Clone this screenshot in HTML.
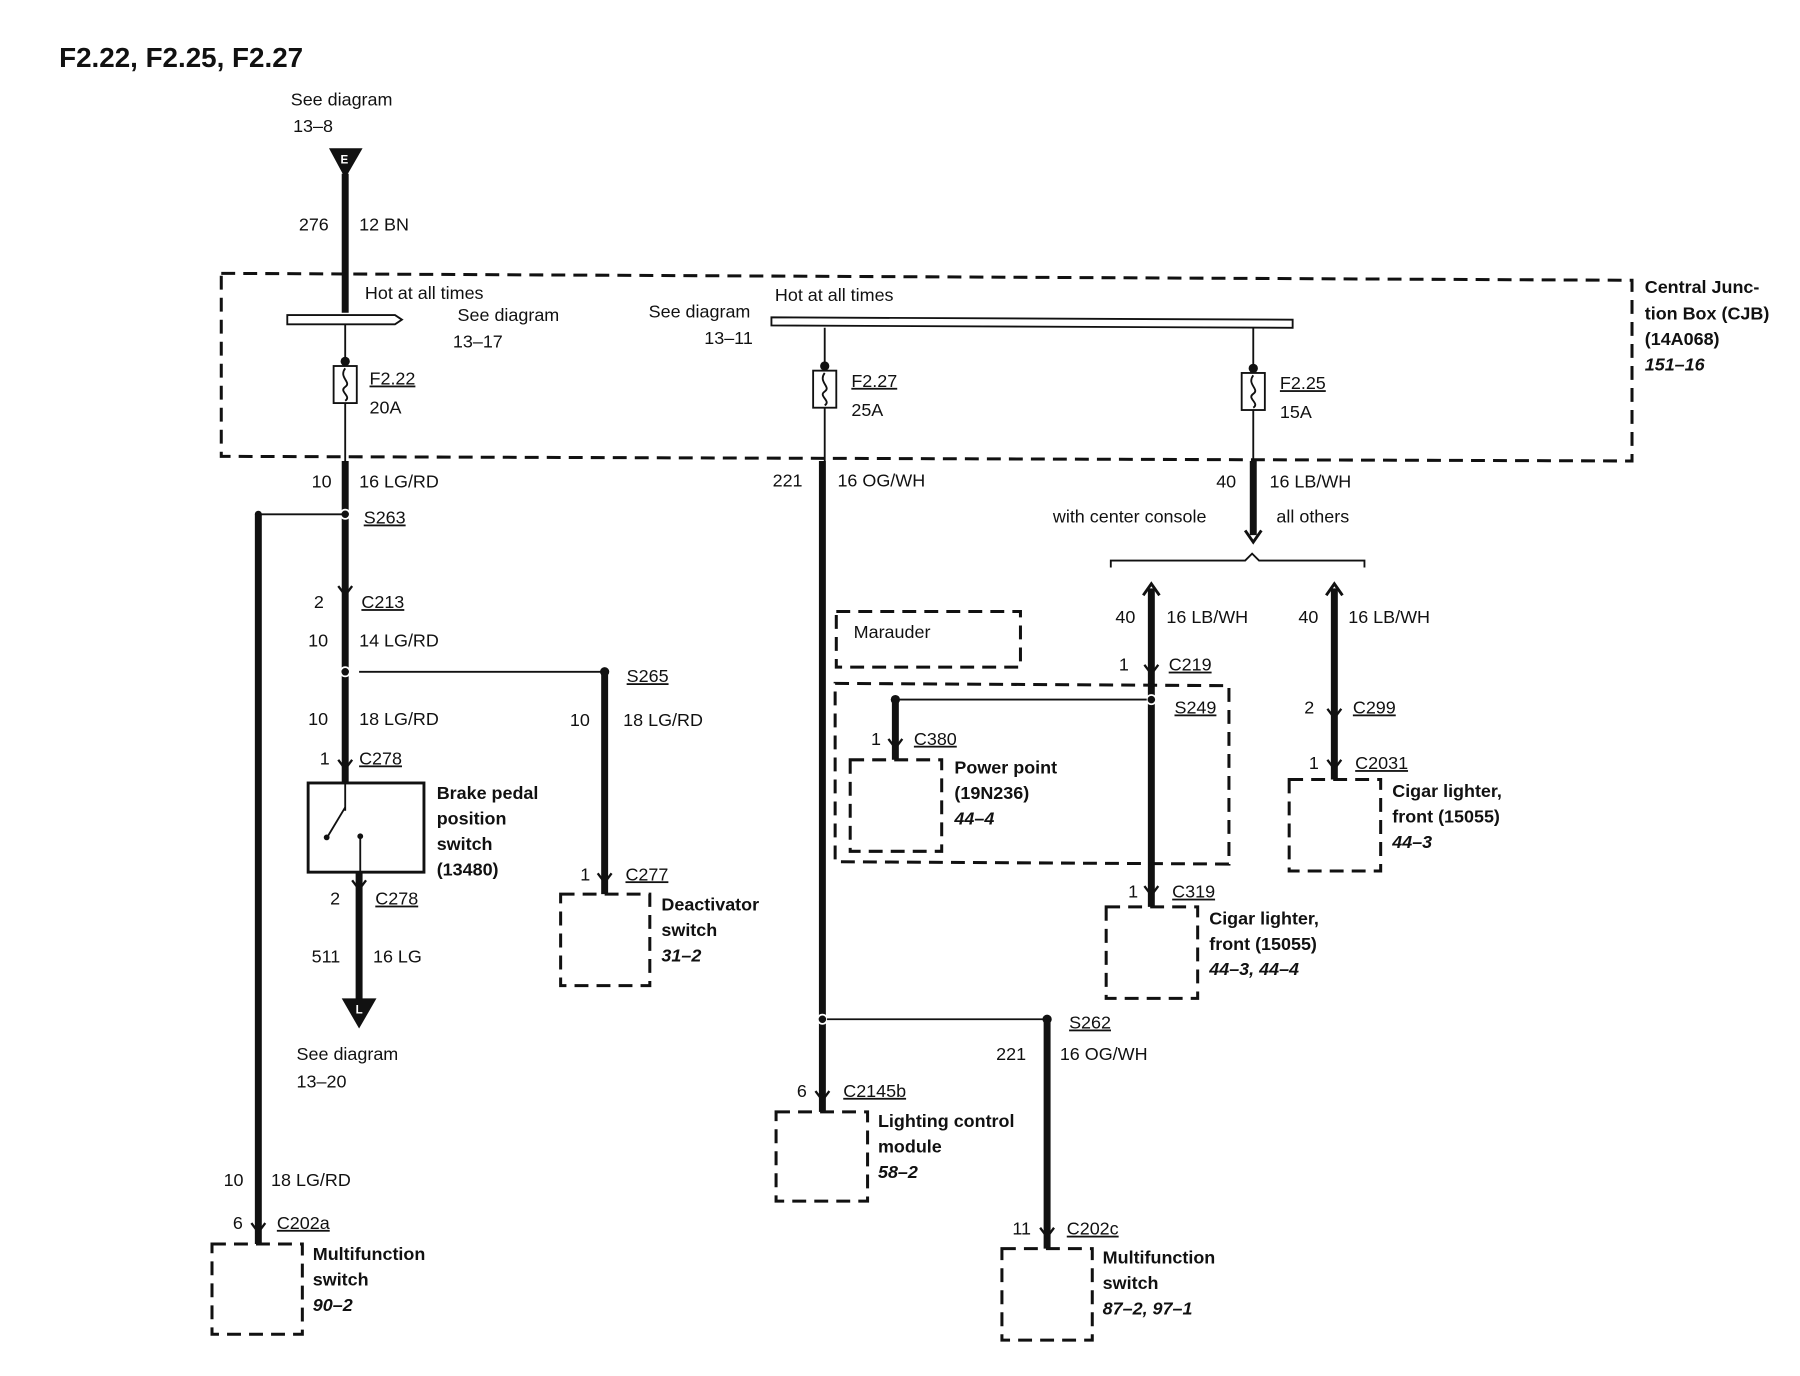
<!DOCTYPE html>
<html><head><meta charset="utf-8"><style>
html,body{margin:0;padding:0;background:#fff;}
svg{display:block;}
text{font-family:"Liberation Sans",sans-serif;font-size:15.5px;fill:#111;}
.b{font-weight:bold;}
.i{font-style:italic;font-weight:bold;}
.w{stroke:#111;stroke-width:6;fill:none;}
.t{stroke:#111;stroke-width:1.6;fill:none;}
.d{stroke:#111;stroke-width:2.6;fill:none;stroke-dasharray:12,7;}
.u{text-decoration:underline;}
</style></head><body>
<svg width="1800" height="1376" viewBox="0 0 1552 1188" xmlns="http://www.w3.org/2000/svg">
<defs>
<g id="cn"><path d="M-6,-8 L0,0 L6,-8" stroke="#111" stroke-width="2" fill="none"/></g>
</defs>
<text x="50" y="58" class="b" style="font-size:24px">F2.22, F2.25, F2.27</text>
<text x="250" y="91">See diagram</text><text x="252" y="114">13–8</text>
<path d="M283,128 L312,128 L297,154 Z" fill="#111"/>
<text x="293" y="141" style="font-size:10px;fill:#fff" class="b">E</text>
<line x1="297" y1="150" x2="297" y2="270" class="w"/>
<text x="257" y="199">276</text><text x="309" y="199">12 BN</text>

<path d="M190,236 L1408,242 L1408,398 L190,394 Z" class="d"/>
<text x="1419" y="253" class="b">Central Junc-</text>
<text x="1419" y="276" class="b">tion Box (CJB)</text>
<text x="1419" y="298" class="b">(14A068)</text>
<text x="1419" y="320" class="i">151–16</text>

<path d="M247,272 L340,272 L346,276 L340,280 L247,280 Z" stroke="#111" stroke-width="1.6" fill="#fff"/>
<text x="314" y="258">Hot at all times</text>
<text x="394" y="277">See diagram</text><text x="390" y="300">13–17</text>
<path d="M665,274 L1115,276 L1115,283 L665,281 Z" stroke="#111" stroke-width="1.6" fill="#fff"/>
<text x="668" y="260">Hot at all times</text>
<text x="559" y="274">See diagram</text><text x="607" y="297">13–11</text>

<!-- fuses -->
<g>
<line x1="297" y1="280" x2="297" y2="398" class="t"/>
<circle cx="297" cy="312" r="4" fill="#111"/>
<rect x="287" y="316" width="20" height="32" fill="#fff" stroke="#111" stroke-width="1.6"/>
<path d="M297,318 C291,326 303,330 297,334 C291,338 303,342 297,346" class="t"/>
<text x="318" y="332" class="u">F2.22</text><text x="318" y="357">20A</text>
</g>
<g>
<line x1="711" y1="283" x2="711" y2="398" class="t"/>
<circle cx="711" cy="316" r="4" fill="#111"/>
<rect x="701" y="320" width="20" height="32" fill="#fff" stroke="#111" stroke-width="1.6"/>
<path d="M711,322 C705,330 717,334 711,338 C705,342 717,346 711,350" class="t"/>
<text x="734" y="334" class="u">F2.27</text><text x="734" y="359">25A</text>
</g>
<g>
<line x1="1081" y1="283" x2="1081" y2="398" class="t"/>
<circle cx="1081" cy="318" r="4" fill="#111"/>
<rect x="1071" y="322" width="20" height="32" fill="#fff" stroke="#111" stroke-width="1.6"/>
<path d="M1081,324 C1075,332 1087,336 1081,340 C1075,344 1087,348 1081,352" class="t"/>
<text x="1104" y="336" class="u">F2.25</text><text x="1104" y="361">15A</text>
</g>

<!-- left branch F2.22 -->
<line x1="297" y1="398" x2="297" y2="676" class="w"/>
<text x="268" y="421">10</text><text x="309" y="421">16 LG/RD</text>
<circle cx="297" cy="444" r="4" fill="#111" stroke="#fff" stroke-width="1.5"/>
<line x1="222" y1="444" x2="297" y2="444" class="t"/>
<circle cx="222" cy="444" r="3" fill="#111"/>
<text x="313" y="452" class="u">S263</text>
<use href="#cn" x="297" y="514"/>
<text x="270" y="525">2</text><text x="311" y="525" class="u">C213</text>
<text x="265" y="558">10</text><text x="309" y="558">14 LG/RD</text>
<circle cx="297" cy="580" r="4" fill="#111" stroke="#fff" stroke-width="1.5"/>
<line x1="309" y1="580" x2="521" y2="580" class="t"/>
<circle cx="521" cy="580" r="4" fill="#111"/>
<text x="540" y="589" class="u">S265</text>
<text x="265" y="626">10</text><text x="309" y="626">18 LG/RD</text>
<use href="#cn" x="297" y="664"/>
<text x="275" y="660">1</text><text x="309" y="660" class="u">C278</text>
<rect x="265" y="676" width="100" height="77" fill="#fff" stroke="#111" stroke-width="2.5"/>
<line x1="297" y1="676" x2="297" y2="700" class="t"/>
<line x1="282" y1="722" x2="297" y2="697" class="t"/>
<circle cx="281" cy="723" r="2.5" fill="#111"/>
<circle cx="310" cy="722" r="2.5" fill="#111"/>
<line x1="310" y1="722" x2="310" y2="753" class="t"/>
<text x="376" y="690" class="b">Brake pedal</text>
<text x="376" y="712" class="b">position</text>
<text x="376" y="734" class="b">switch</text>
<text x="376" y="756" class="b">(13480)</text>
<line x1="309" y1="753" x2="309" y2="866" class="w"/>
<use href="#cn" x="309" y="768"/>
<text x="284" y="781">2</text><text x="323" y="781" class="u">C278</text>
<text x="268" y="831">511</text><text x="321" y="831">16 LG</text>
<path d="M294,862 L324,862 L309,888 Z" fill="#111"/>
<text x="306" y="875" style="font-size:10px;fill:#fff" class="b">L</text>
<text x="255" y="915">See diagram</text><text x="255" y="939">13–20</text>

<!-- S265 -->
<line x1="521" y1="580" x2="521" y2="772" class="w"/>
<text x="491" y="627">10</text><text x="537" y="627">18 LG/RD</text>
<use href="#cn" x="521" y="762"/>
<text x="500" y="760">1</text><text x="539" y="760" class="u">C277</text>
<rect x="483" y="772" width="77" height="79" class="d" fill="none"/>
<text x="570" y="786" class="b">Deactivator</text>
<text x="570" y="808" class="b">switch</text>
<text x="570" y="830" class="i">31–2</text>

<!-- left long -->
<line x1="222" y1="444" x2="222" y2="1074" class="w"/>
<text x="192" y="1024">10</text><text x="233" y="1024">18 LG/RD</text>
<use href="#cn" x="222" y="1064"/>
<text x="200" y="1061">6</text><text x="238" y="1061" class="u">C202a</text>
<rect x="182" y="1074" width="78" height="78" class="d"/>
<text x="269" y="1088" class="b">Multifunction</text>
<text x="269" y="1110" class="b">switch</text>
<text x="269" y="1132" class="i">90–2</text>

<!-- F2.27 branch -->
<line x1="709" y1="398" x2="709" y2="960" class="w"/>
<text x="666" y="420">221</text><text x="722" y="420">16 OG/WH</text>
<rect x="721" y="528" width="159" height="48" class="d"/>
<text x="736" y="551">Marauder</text>
<circle cx="709" cy="880" r="4" fill="#111" stroke="#fff" stroke-width="1.5"/>
<line x1="713" y1="880" x2="903" y2="880" class="t"/>
<circle cx="903" cy="880" r="4" fill="#111"/>
<text x="922" y="888" class="u">S262</text>
<use href="#cn" x="709" y="950"/>
<text x="687" y="947">6</text><text x="727" y="947" class="u">C2145b</text>
<rect x="669" y="960" width="79" height="77" class="d"/>
<text x="757" y="973" class="b">Lighting control</text>
<text x="757" y="995" class="b">module</text>
<text x="757" y="1017" class="i">58–2</text>
<line x1="903" y1="880" x2="903" y2="1078" class="w"/>
<text x="859" y="915">221</text><text x="914" y="915">16 OG/WH</text>
<use href="#cn" x="903" y="1068"/>
<text x="873" y="1066">11</text><text x="920" y="1066" class="u">C202c</text>
<rect x="864" y="1078" width="78" height="79" class="d"/>
<text x="951" y="1091" class="b">Multifunction</text>
<text x="951" y="1113" class="b">switch</text>
<text x="951" y="1135" class="i">87–2, 97–1</text>

<!-- F2.25 branch -->
<line x1="1081" y1="398" x2="1081" y2="462" class="w"/>
<path d="M1074,458 L1081,468 L1088,458" stroke="#111" stroke-width="2.5" fill="none"/>
<text x="1049" y="421">40</text><text x="1095" y="421">16 LB/WH</text>
<text x="908" y="451">with center console</text><text x="1101" y="451">all others</text>
<path d="M958,490 L958,484 L1074,484 L1080,478 L1086,484 L1177,484 L1177,490" class="t" stroke-width="2"/>

<line x1="993" y1="508" x2="993" y2="783" class="w"/>
<path d="M986,514 L993,504 L1000,514" stroke="#111" stroke-width="2.5" fill="none"/>
<text x="962" y="538">40</text><text x="1006" y="538">16 LB/WH</text>
<use href="#cn" x="993" y="582"/>
<text x="965" y="579">1</text><text x="1008" y="579" class="u">C219</text>
<path d="M720,590 L1060,592 L1060,746 L720,744 Z" class="d" stroke-width="1.8"/>
<circle cx="993" cy="604" r="4" fill="#111" stroke="#fff" stroke-width="1.5"/>
<line x1="772" y1="604" x2="989" y2="604" class="t"/>
<circle cx="772" cy="604" r="4" fill="#111"/>
<text x="1013" y="616" class="u">S249</text>
<line x1="772" y1="604" x2="772" y2="656" class="w"/>
<use href="#cn" x="772" y="646"/>
<text x="751" y="643">1</text><text x="788" y="643" class="u">C380</text>
<rect x="733" y="656" width="79" height="79" class="d"/>
<text x="823" y="668" class="b">Power point</text>
<text x="823" y="690" class="b">(19N236)</text>
<text x="823" y="712" class="i">44–4</text>
<use href="#cn" x="993" y="773"/>
<text x="973" y="775">1</text><text x="1011" y="775" class="u">C319</text>
<rect x="954" y="783" width="79" height="79" class="d"/>
<text x="1043" y="798" class="b">Cigar lighter,</text>
<text x="1043" y="820" class="b">front (15055)</text>
<text x="1043" y="842" class="i">44–3, 44–4</text>

<line x1="1151" y1="508" x2="1151" y2="673" class="w"/>
<path d="M1144,514 L1151,504 L1158,514" stroke="#111" stroke-width="2.5" fill="none"/>
<text x="1120" y="538">40</text><text x="1163" y="538">16 LB/WH</text>
<use href="#cn" x="1151" y="620"/>
<text x="1125" y="616">2</text><text x="1167" y="616" class="u">C299</text>
<use href="#cn" x="1151" y="664"/>
<text x="1129" y="664">1</text><text x="1169" y="664" class="u">C2031</text>
<rect x="1112" y="673" width="79" height="79" class="d"/>
<text x="1201" y="688" class="b">Cigar lighter,</text>
<text x="1201" y="710" class="b">front (15055)</text>
<text x="1201" y="732" class="i">44–3</text>
</svg>
</body></html>
